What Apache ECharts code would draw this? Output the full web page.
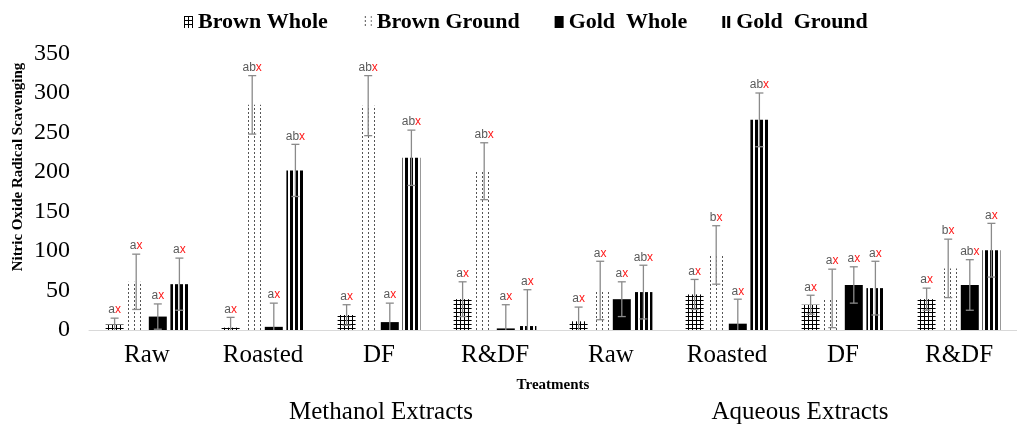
<!DOCTYPE html>
<html>
<head>
<meta charset="utf-8">
<script src="https://cdn.jsdelivr.net/npm/echarts@6/dist/echarts.min.js"></script>
<style>
  html, body { margin: 0; padding: 0; background: #fff; }
  #chart { width: 1017px; height: 428px; }
</style>
</head>
<body>
<div id="chart"></div>
<script>
// Treatments along the x axis (four per extract type)
const categories = ['Raw', 'Roasted', 'DF', 'R&DF', 'Raw', 'Roasted', 'DF', 'R&DF'];
const extractGroups = ['Methanol Extracts', 'Aqueous Extracts'];
const seriesNames = ['Brown Whole', 'Brown Ground', 'Gold  Whole', 'Gold  Ground'];

// Mean nitric oxide radical scavenging
const brownWhole  = [7, 3, 19, 39, 11, 45, 32, 39];
const brownGround = [61, 285, 284, 201, 50, 95, 40, 78];
const goldWhole   = [17, 4, 10, 2, 39, 8, 57, 57];
const goldGround  = [58, 202, 218, 5, 48, 266, 53, 101];

// Error bar half-lengths
const brownWholeErr  = [8, 13, 13, 22, 18, 19, 12, 14];
const brownGroundErr = [35, 37, 38, 36, 37, 37, 37, 37];
const goldWholeErr   = [16, 30, 24, 30, 22, 31, 23, 32];
const goldGroundErr  = [33, 33, 35, 46, 34, 34, 34, 34];

// Significance letters
const brownWholeSig  = ['ax', 'ax', 'ax', 'ax', 'ax', 'ax', 'ax', 'ax'];
const brownGroundSig = ['ax', 'abx', 'abx', 'abx', 'ax', 'bx', 'ax', 'bx'];
const goldWholeSig   = ['ax', 'ax', 'ax', 'ax', 'ax', 'ax', 'ax', 'abx'];
const goldGroundSig  = ['ax', 'abx', 'abx', 'ax', 'abx', 'abx', 'ax', 'ax'];

// y axis ticks
const yMin = 0, yMax = 350, yStep = 50;

const values = [brownWhole, brownGround, goldWhole, goldGround];
const errs = [brownWholeErr, brownGroundErr, goldWholeErr, goldGroundErr];
const sigs = [brownWholeSig, brownGroundSig, goldWholeSig, goldGroundSig];

// ---- fill patterns ----
function makePattern(w, h, draw) {
  const c = document.createElement('canvas');
  c.width = w; c.height = h;
  const g = c.getContext('2d');
  g.fillStyle = '#ffffff';
  g.fillRect(0, 0, w, h);
  draw(g);
  return { image: c, repeat: 'repeat' };
}
const gridFill = makePattern(4, 4, g => {
  g.fillStyle = '#000';
  g.fillRect(0, 0, 4, 1);
  g.fillRect(0, 0, 1, 4);
});
const dotFill = makePattern(6, 4, g => {
  g.fillStyle = '#555';
  g.fillRect(2, 0, 1, 2);
});
const stripeFill = makePattern(5, 1, g => {
  g.fillStyle = '#000';
  g.fillRect(0, 0, 3, 1);
});
const fills = [gridFill, dotFill, '#000000', stripeFill];

const BAR_W = 18;
const BAR_GAP = 0.2;
const PITCH = BAR_W * (1 + BAR_GAP);
const serif = 'Liberation Serif';

const barSeries = seriesNames.map((name, s) => ({
  name: name,
  type: 'bar',
  data: values[s],
  barWidth: BAR_W,
  barGap: (BAR_GAP * 100) + '%',
  itemStyle: { color: fills[s] },
  z: 2
}));

// error bars + significance letters
const errData = [];
values.forEach((arr, s) => {
  arr.forEach((v, i) => errData.push([i, s, v, errs[s][i]]));
});

function renderErr(params, api) {
  const cat = api.value(0), s = api.value(1), v = api.value(2), e = api.value(3);
  const x = api.coord([cat, 0])[0] + (s - 1.5) * PITCH;
  const yT = api.coord([cat, v + e])[1];
  const lowV = Math.max(0, v - e);
  const yB = api.coord([cat, lowV])[1];
  const sig = sigs[s][cat];
  const stroke = { stroke: '#8a8a8a', lineWidth: 1.3 };
  const children = [
    { type: 'line', shape: { x1: x, y1: yT, x2: x, y2: yB }, style: stroke },
    { type: 'line', shape: { x1: x - 4, y1: yT, x2: x + 4, y2: yT }, style: stroke }
  ];
  if (lowV > 0) {
    children.push({ type: 'line', shape: { x1: x - 4, y1: yB, x2: x + 4, y2: yB }, style: stroke });
  }
  children.push({
    type: 'text',
    x: x,
    y: yT - 2,
    style: {
      text: '{g|' + sig.slice(0, -1) + '}{r|' + sig.slice(-1) + '}',
      align: 'center',
      verticalAlign: 'bottom',
      rich: {
        g: { fill: '#5a5a5a', fontSize: 12, fontFamily: 'Liberation Sans' },
        r: { fill: '#ff1a1a', fontSize: 12, fontFamily: 'Liberation Sans' }
      }
    }
  });
  return { type: 'group', children: children };
}

const chart = echarts.init(document.getElementById('chart'), null, { renderer: 'canvas' });
chart.setOption({
  animation: false,
  backgroundColor: '#ffffff',
  grid: { left: 89, top: 53.5, width: 935, height: 276.5 },
  legend: {
    data: seriesNames,
    top: 6,
    left: 179,
    itemGap: 35,
    itemWidth: 9,
    itemHeight: 12,
    icon: 'rect',
    textStyle: { fontFamily: serif, fontWeight: 'bold', fontSize: 22, color: '#000' }
  },
  xAxis: {
    type: 'category',
    data: categories,
    axisLine: { lineStyle: { color: '#d9d9d9', width: 1 } },
    axisTick: { show: false },
    axisLabel: { interval: 0, fontFamily: serif, fontSize: 25, color: '#000', margin: 13 },
    name: 'Treatments',
    nameLocation: 'middle',
    nameGap: 48,
    nameTextStyle: { fontFamily: serif, fontWeight: 'bold', fontSize: 15, color: '#000' }
  },
  yAxis: {
    type: 'value',
    min: yMin,
    max: yMax,
    interval: yStep,
    axisLine: { show: false },
    axisTick: { show: false },
    splitLine: { show: false },
    axisLabel: { fontFamily: serif, fontSize: 24, color: '#000', margin: 19 }
  },
  graphic: [
    {
      type: 'text', x: 18, y: 167, rotation: Math.PI / 2,
      style: {
        text: 'Nitric Oxide Radical Scavenging', align: 'center', verticalAlign: 'middle',
        fontFamily: serif, fontWeight: 'bold', fontSize: 15, fill: '#000'
      }
    },
    {
      type: 'text', x: 381, y: 412,
      style: { text: extractGroups[0], align: 'center', verticalAlign: 'middle', fontFamily: serif, fontSize: 25, fill: '#000' }
    },
    {
      type: 'text', x: 800, y: 412,
      style: { text: extractGroups[1], align: 'center', verticalAlign: 'middle', fontFamily: serif, fontSize: 25, fill: '#000' }
    }
  ],
  series: barSeries.concat([{
    name: 'errors',
    type: 'custom',
    data: errData,
    encode: { x: 0, y: 2 },
    renderItem: renderErr,
    z: 5,
    silent: true
  }])
});
</script>
</body>
</html>
